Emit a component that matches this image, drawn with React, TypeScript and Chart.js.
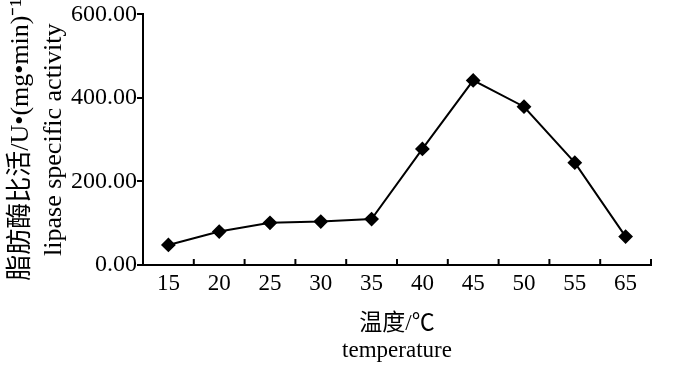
import React, { useEffect, useRef } from "react";
import { Chart, registerables } from "chart.js";

Chart.register(...registerables);

const categories = ["15", "20", "25", "30", "35", "40", "45", "50", "55", "65"];
const activity = [48, 80, 101, 104, 110, 278, 442, 379, 245, 68];
const yTicks = [0, 200, 400, 600];
const yTitle = ["脂肪酶比活/U•(mg•min)⁻¹", "lipase specific activity"];
const xTitle = ["温度/℃", "temperature"];

const FONT = "'Liberation Serif', 'Times New Roman', 'Noto Sans CJK SC', serif";

const innerTicks = {
  id: "innerTicks",
  afterDraw(chart: any) {
    const xs = chart.scales.x;
    const ctx = chart.ctx;
    const n = chart.data.labels.length;
    const bottom = chart.chartArea.bottom;
    ctx.save();
    ctx.strokeStyle = "#000";
    ctx.lineWidth = 2;
    for (let i = 1; i <= n; i++) {
      let x;
      if (i < n) {
        x = (xs.getPixelForTick(i - 1) + xs.getPixelForTick(i)) / 2;
      } else {
        x = xs.right;
      }
      ctx.beginPath();
      ctx.moveTo(x, bottom);
      ctx.lineTo(x, bottom - 6);
      ctx.stroke();
    }
    ctx.restore();
  },
};

export default function App() {
  const ref = useRef<HTMLCanvasElement>(null);
  useEffect(() => {
    document.body.style.margin = "0";
    const chart = new Chart(ref.current!, {
      type: "line",
      data: {
        labels: categories,
        datasets: [
          {
            data: activity,
            borderColor: "#000",
            backgroundColor: "#000",
            borderWidth: 2,
            pointStyle: "rectRot",
            pointRadius: 6,
            pointBackgroundColor: "#000",
            pointBorderColor: "#000",
            tension: 0,
          },
        ],
      },
      options: {
        responsive: false,
        animation: false,
        layout: { padding: { top: 10, right: 49, left: 0, bottom: 0 } },
        plugins: { legend: { display: false }, tooltip: { enabled: false } },
        scales: {
          x: {
            offset: true,
            grid: { display: false, offset: true },
            border: { display: true, color: "#000", width: 2 },
            ticks: { color: "#000", font: { family: FONT, size: 23 }, padding: -3 },
            title: {
              display: true,
              text: xTitle,
              color: "#000",
              font: { family: FONT, size: 23, lineHeight: 1.15 },
              padding: { top: 0, bottom: 10 },
            },
            afterFit(scale: any) {
              scale.height = 109;
            },
          },
          y: {
            min: 0,
            max: 600,
            afterBuildTicks(scale: any) {
              scale.ticks = yTicks.map((v) => ({ value: v }));
            },
            grid: { drawOnChartArea: false, drawTicks: true, tickLength: 6, color: "#000", lineWidth: 2 },
            border: { display: true, color: "#000", width: 2 },
            ticks: {
              color: "#000",
              font: { family: FONT, size: 24 },
              padding: 0,
              callback: (v: any) => Number(v).toFixed(2),
            },
            title: {
              display: true,
              text: yTitle,
              color: "#000",
              font: { family: FONT, size: 26, lineHeight: 1.25 },
              padding: { top: 5, bottom: 0 },
            },
            afterFit(scale: any) {
              scale.width = 143;
            },
          },
        },
      },
      plugins: [innerTicks],
    });
    return () => chart.destroy();
  }, []);
  return (
    <div style={{ width: 700, height: 374 }}>
      <canvas ref={ref} width={700} height={374} />
    </div>
  );
}
